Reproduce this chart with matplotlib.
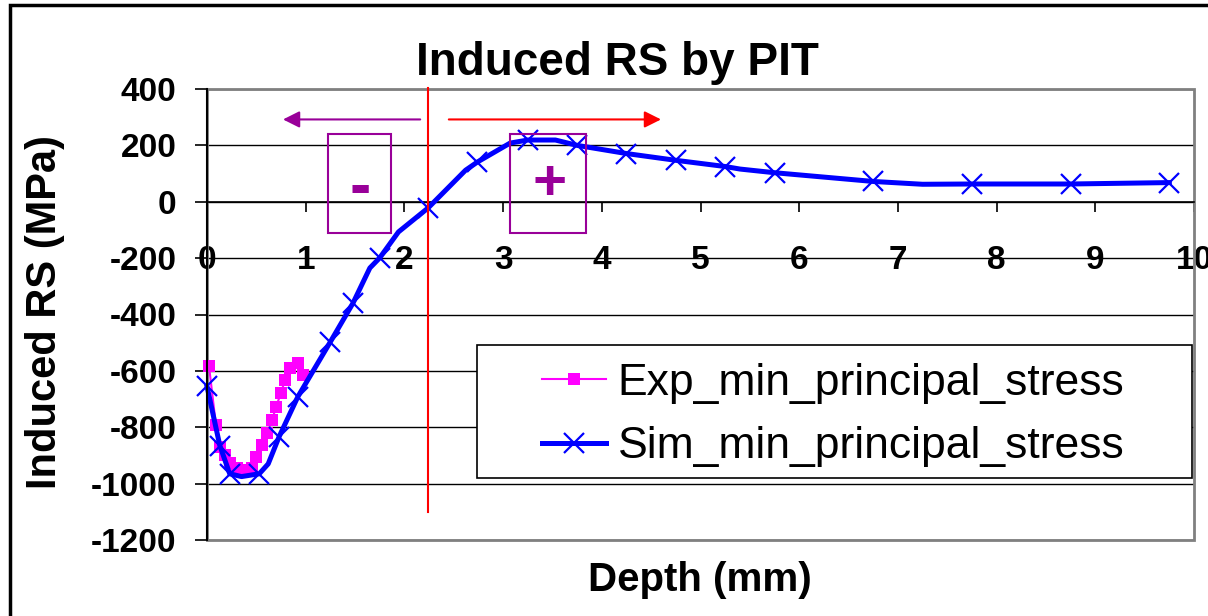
import matplotlib
matplotlib.use("Agg")
import matplotlib.pyplot as plt
from matplotlib.patches import Rectangle

plt.rcParams['font.family'] = ['Liberation Sans', 'DejaVu Sans']
plt.rcParams['axes.unicode_minus'] = False

# ---------------- data ----------------
exp_depth = [0.02, 0.09, 0.13, 0.18, 0.23, 0.30, 0.385, 0.455, 0.50, 0.56, 0.61,
             0.66, 0.70, 0.75, 0.79, 0.84, 0.92, 0.97]
exp_vals = [-582, -791, -869, -898, -926, -944, -951, -944, -905, -862, -820,
            -774, -727, -678, -632, -589, -572, -614]

sim_depth = [0.0, 0.13, 0.23, 0.35, 0.53, 0.62, 0.73, 0.92, 1.25, 1.48, 1.65, 1.75,
             1.94, 2.24, 2.62, 2.74, 3.07, 3.25, 3.53, 3.75, 4.25, 4.75, 5.25, 5.40,
             5.75, 6.75, 7.25, 7.75, 8.75, 9.75]
sim_vals = [-655, -865, -965, -975, -965, -930, -834, -692, -497, -359, -235, -199,
            -107, -22, 112, 141, 208, 219, 219, 200, 171, 147, 125, 116,
            103, 72, 62, 63, 63, 68]
sim_marker_idx = [0, 1, 2, 4, 6, 7, 8, 9, 11, 13, 15, 17, 19, 20, 21, 22, 24, 25, 27, 28, 29]

x_ticks = list(range(0, 11))
y_ticks = list(range(-1200, 401, 200))

boundary_depth = 2.24
title = "Induced RS by PIT"
xlabel = "Depth (mm)"
ylabel = "Induced RS (MPa)"
exp_label = "Exp_min_principal_stress"
sim_label = "Sim_min_principal_stress"

# ---------------- figure ----------------
W, H = 1208, 616
fig = plt.figure(figsize=(W / 100, H / 100), dpi=100)
fig.patch.set_facecolor('white')

def fx(px):
    return px / W

def fy(py):
    return 1 - py / H

ax = fig.add_axes([fx(207), fy(540), fx(1194) - fx(207), fy(89) - fy(540)])
ax.set_xlim(0, 10)
ax.set_ylim(-1200, 400)

purple = '#990099'

# grid
ax.set_yticks(y_ticks)
ax.set_xticks(x_ticks)
ax.yaxis.grid(True, color='black', lw=1.0)
ax.set_axisbelow(True)

# plot-area border (gray)
ax.add_patch(Rectangle((0, 0), 1, 1, transform=ax.transAxes, fill=False,
                       ec='#808080', lw=2.0, clip_on=False, zorder=1))
for s in ['top', 'right']:
    ax.spines[s].set_visible(False)
ax.spines['left'].set_color('black')
ax.spines['left'].set_linewidth(1.5)
ax.spines['left'].set_zorder(5)
ax.spines['bottom'].set_position(('data', 0))
ax.spines['bottom'].set_color('black')
ax.spines['bottom'].set_linewidth(1.2)

ax.tick_params(axis='y', direction='out', length=9, width=1.2, pad=13,
               labelsize=24)
ax.tick_params(axis='x', direction='out', length=7, width=1.2, pad=24,
               labelsize=24)
for lab in ax.get_xticklabels() + ax.get_yticklabels():
    lab.set_fontweight('bold')

# data
l_exp, = ax.plot(exp_depth, exp_vals, color='#FF00FF', lw=1.5, marker='s',
                 markersize=8.5, markeredgewidth=0, zorder=3, clip_on=False)
l_sim, = ax.plot(sim_depth, sim_vals, color='#0000FF', lw=3.6, marker='x',
                 markersize=15, markeredgewidth=1.6, markevery=sim_marker_idx,
                 zorder=4, clip_on=False)

# annotations
ax.plot([boundary_depth, boundary_depth], [-1100, 405], color='red', lw=1.5,
        zorder=4, clip_on=False)
ax.annotate('', xy=(0.77, 292), xytext=(2.16, 292),
            arrowprops=dict(arrowstyle='-|>', color=purple, lw=1.5,
                            mutation_scale=25, shrinkA=0, shrinkB=0))
ax.annotate('', xy=(4.60, 292), xytext=(2.45, 292),
            arrowprops=dict(arrowstyle='-|>', color='red', lw=1.5,
                            mutation_scale=25, shrinkA=0, shrinkB=0))
ax.add_patch(Rectangle((1.23, -111), 0.63, 351, fill=False, ec=purple, lw=1.5, zorder=4))
ax.add_patch(Rectangle((3.07, -111), 0.77, 351, fill=False, ec=purple, lw=1.5, zorder=4))
ax.text(1.55, 45, '-', color=purple, fontsize=46, fontweight='bold',
        ha='center', va='center', zorder=5)
ax.text(3.47, 60, '+', color=purple, fontsize=42, fontweight='bold',
        ha='center', va='center', zorder=5)

# legend (frame drawn separately)
fig.patches.append(Rectangle((fx(477), fy(478)), fx(1192) - fx(477), fy(345) - fy(478),
                             transform=fig.transFigure, fill=False, ec='black',
                             lw=1.2, zorder=10))
fig.patches.append(Rectangle((fx(477), fy(478)), fx(1192) - fx(477), fy(345) - fy(478),
                             transform=fig.transFigure, fill=True, fc='white',
                             ec='none', zorder=9))
leg = fig.legend([l_exp, l_sim], [exp_label, sim_label], loc='upper left',
                 bbox_to_anchor=(fx(542), fy(363)), bbox_transform=fig.transFigure,
                 frameon=False, borderpad=0, borderaxespad=0, fontsize=32,
                 handlelength=1.45, handletextpad=0.25, labelspacing=0.5,
                 numpoints=1)
leg.set_zorder(11)

# titles
fig.text(fx(617), fy(63), title, fontsize=33, fontweight='bold',
         ha='center', va='center')
fig.text(fx(700), fy(580), xlabel, fontsize=29, fontweight='bold',
         ha='center', va='center')
fig.text(fx(45), fy(312), ylabel, fontsize=30, fontweight='bold',
         ha='center', va='center', rotation=90)

# outer frame
fig.patches.append(Rectangle((fx(10), -0.2), 1.5, fy(5) + 0.2,
                             transform=fig.transFigure, fill=False, ec='black', lw=2.5))

fig.savefig('out.png', dpi=100)
